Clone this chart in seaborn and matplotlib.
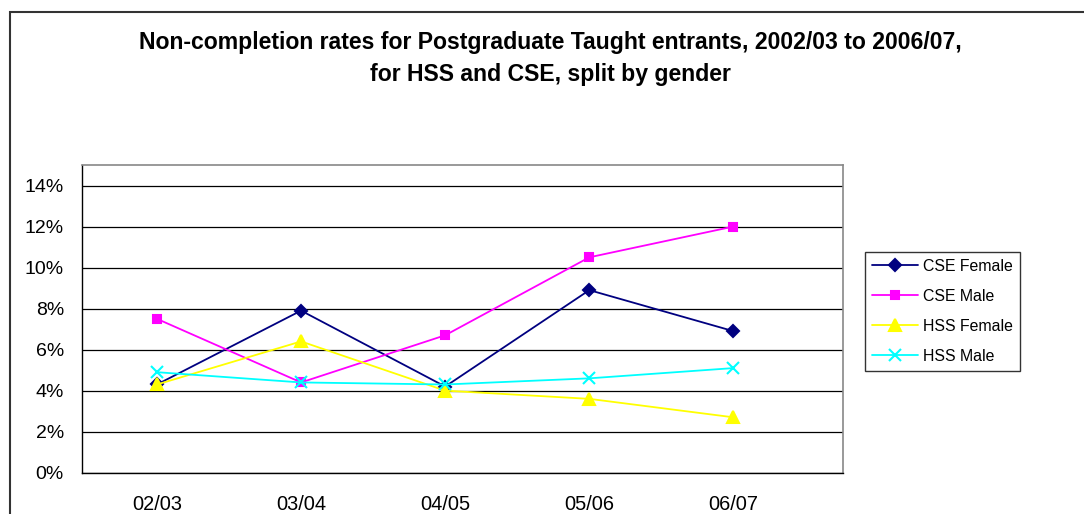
import numpy as np
import pandas as pd
import matplotlib
matplotlib.use("Agg")
import matplotlib.pyplot as plt
import seaborn as sns
from matplotlib.patches import Rectangle
from matplotlib.ticker import FuncFormatter, FixedLocator

# valori (percentuali)
years = ['02/03', '03/04', '04/05', '05/06', '06/07']
cse_female = [4.3, 7.9, 4.2, 8.9, 6.9]
cse_male = [7.5, 4.4, 6.7, 10.5, 12.0]
hss_female = [4.3, 6.4, 4.0, 3.6, 2.7]
hss_male = [4.9, 4.4, 4.3, 4.6, 5.1]

series_names = ['CSE Female', 'CSE Male', 'HSS Female', 'HSS Male']
colors = {'CSE Female': '#000080', 'CSE Male': '#FF00FF',
          'HSS Female': '#FFFF00', 'HSS Male': '#00FFFF'}
markers = {'CSE Female': 'D', 'CSE Male': 's', 'HSS Female': '^', 'HSS Male': 'x'}
msizes = {'CSE Female': 6.5, 'CSE Male': 6, 'HSS Female': 8, 'HSS Male': 8}


def main():
    rows = []
    for name, vals in zip(series_names, [cse_female, cse_male, hss_female, hss_male]):
        for i, v in enumerate(vals):
            rows.append({'pos': i, 'rate': v / 100, 'serie': name})
    df = pd.DataFrame(rows)

    sns.set_style('white')
    plt.rcParams['font.family'] = ['Liberation Sans', 'DejaVu Sans']
    plt.rcParams['text.color'] = 'black'
    plt.rcParams['xtick.color'] = 'black'
    plt.rcParams['ytick.color'] = 'black'

    fig = plt.figure(figsize=(10.84, 5.14), dpi=100)
    ax = fig.add_axes([82 / 1084, 1 - 472.7 / 514, (843 - 82) / 1084, (472.7 - 165) / 514])

    # cornice esterna del grafico (tagliata a destra e in basso)
    fig.patches.append(Rectangle((10 / 1084, -0.1), 1.2, 1 - 12 / 514 + 0.1,
                                 transform=fig.transFigure, fill=False,
                                 edgecolor='#333333', linewidth=1.5, zorder=0))

    for name in series_names:
        sub = df[df['serie'] == name]
        sns.lineplot(data=sub, x='pos', y='rate', color=colors[name],
                     marker=markers[name], markersize=msizes[name],
                     markeredgecolor=colors[name], markeredgewidth=1.5,
                     linewidth=1.3, label=name, ax=ax)

    ax.set_xlim(-0.52, 4.76)
    ax.set_ylim(0, 0.15)
    ax.set_yticks(np.arange(0, 0.141, 0.02))
    ax.yaxis.set_major_formatter(FuncFormatter(lambda v, p: f'{v * 100:.0f}%'))
    ax.set_xticks(range(len(years)))
    ax.set_xticklabels(years)
    ax.xaxis.set_minor_locator(FixedLocator([-0.5, 0.5, 1.5, 2.5, 3.5]))
    ax.tick_params(axis='x', which='major', length=0, pad=16, labelsize=14.4)
    ax.tick_params(axis='x', which='minor', length=7, width=1, color='black', direction='out')
    ax.tick_params(axis='y', length=5, width=1, color='black', direction='out', pad=8, labelsize=14)
    ax.grid(axis='y', color='black', linewidth=0.9)
    ax.set_axisbelow(True)
    ax.set_xlabel('')
    ax.set_ylabel('')

    for s in ['left', 'bottom']:
        ax.spines[s].set_color('black')
        ax.spines[s].set_linewidth(1)
    for s in ['top', 'right']:
        ax.spines[s].set_color('#888888')
        ax.spines[s].set_linewidth(1.2)

    fig.text(550 / 1084, 1 - 42 / 514,
             'Non-completion rates for Postgraduate Taught entrants, 2002/03 to 2006/07,',
             ha='center', va='center', fontsize=16.6, fontweight='bold')
    fig.text(550 / 1084, 1 - 75 / 514, 'for HSS and CSE, split by gender',
             ha='center', va='center', fontsize=16.6, fontweight='bold')

    handles, labels = ax.get_legend_handles_labels()
    ax.legend(handles=handles, labels=labels, loc='upper left',
              bbox_to_anchor=(865 / 1084, 1 - 251.7 / 514), bbox_transform=fig.transFigure,
              borderaxespad=0, frameon=True, fancybox=False, edgecolor='black',
              fontsize=11.4, handlelength=2.9, labelspacing=0.95, handletextpad=0.3,
              borderpad=0.45)
    ax.get_legend().get_frame().set_linewidth(1)

    fig.savefig('out.png', dpi=100)


if __name__ == '__main__':
    main()
